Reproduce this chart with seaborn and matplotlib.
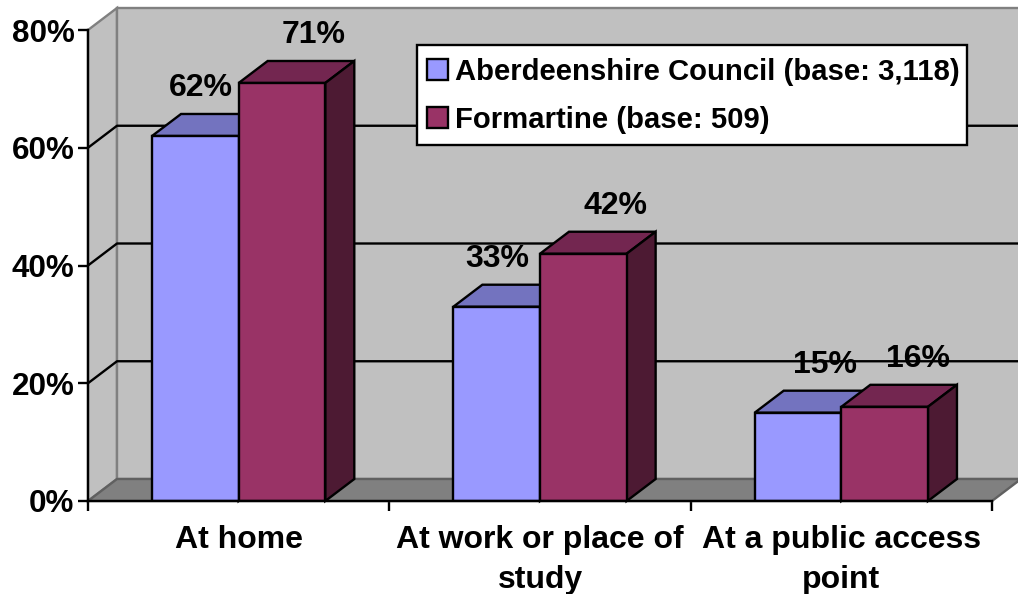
#####----- Where people access the internet, drawn as a fake 3D clustered bar chart

#####----- IMPORTS
import pandas as pd
import matplotlib
matplotlib.use('Agg')
import matplotlib.pyplot as plt
from matplotlib.patches import Polygon, Rectangle
import seaborn as sns

#####----- DATA
categories = ['At home', 'At work or place of\nstudy', 'At a public access\npoint']
series_names = ['Aberdeenshire Council (base: 3,118)', 'Formartine (base: 509)']
council_values = [62, 33, 15]
formartine_values = [71, 42, 16]
y_ticks = [0, 20, 40, 60, 80]

#####----- STYLE
W, H = 1018, 594
left_px, right_px, top_px, bottom_px = 88, 992, 30, 501
depth_x_px, depth_y_px = 29, 22
front_colors = ['#9999FF', '#993366']
top_colors = ['#7373BF', '#732650']
side_colors = ['#4D4D80', '#4D1A33']
fs = 23
fs_tick = 22.6
fs_legend = 21.1
lw = 1.7
font = ['Liberation Sans', 'DejaVu Sans']
# manual label shift from the bar centre (some labels were dragged in the original)
label_shift_px = [[6, 1, 27], [32, 32, 33]]
label_rise_px = 33

sns.set_style("white")
plt.rcParams['font.family'] = font
plt.rcParams['font.weight'] = 'bold'
plt.rcParams['text.color'] = 'black'
plt.rcParams['xtick.color'] = 'black'
plt.rcParams['ytick.color'] = 'black'

df = pd.DataFrame({
    'category': categories * 2,
    'series': [series_names[0]] * 3 + [series_names[1]] * 3,
    'value': council_values + formartine_values,
})

fig = plt.figure(figsize=(W / 100, H / 100), dpi=100)
ax = fig.add_axes([left_px / W, 1 - bottom_px / H, (right_px - left_px) / W, (bottom_px - top_px) / H])
ax.patch.set_visible(False)

sns.barplot(data=df, x='category', y='value', hue='series', order=categories, hue_order=series_names,
            palette=front_colors, width=0.575, gap=0, saturation=1, edgecolor='black', linewidth=lw,
            errorbar=None, ax=ax)
ax.set_xlim(-0.5, 2.5)
ax.set_ylim(0, 80)

dx = depth_x_px * 3 / (right_px - left_px)
dy = depth_y_px * 80 / (bottom_px - top_px)


def add_poly(points, face, edge, z):
    ax.add_patch(Polygon(points, closed=True, facecolor=face, edgecolor=edge, linewidth=lw, zorder=z, clip_on=False))


#### Walls and floor
x0, x1 = -0.5, 2.5
x_far = x1 + dx
add_poly([(x0, 0), (x0 + dx, dy), (x0 + dx, 80 + dy), (x0, 80)], '#C0C0C0', '#808080', 0.5)
add_poly([(x0 + dx, dy), (x_far, dy), (x_far, 80 + dy), (x0 + dx, 80 + dy)], '#C0C0C0', '#808080', 0.6)
add_poly([(x0, 0), (x1, 0), (x_far, dy), (x0 + dx, dy)], '#808080', '#606060', 0.7)

for v in y_ticks[1:-1]:
    ax.plot([x0, x0 + dx, x_far], [v, v + dy, v + dy], color='black', lw=lw, zorder=1, clip_on=False)

#### 3D faces and labels
for i, container in enumerate(ax.containers):
    z = 3 + 2 * i
    for j, bar in enumerate(container):
        bar.set_zorder(z)
        a, b = bar.get_x(), bar.get_x() + bar.get_width()
        h = bar.get_height()
        add_poly([(a, h), (b, h), (b + dx, h + dy), (a + dx, h + dy)], top_colors[i], 'black', z - 0.5)
        add_poly([(b, 0), (b + dx, dy), (b + dx, h + dy), (b, h)], side_colors[i], 'black', z - 0.5)
        ax.annotate(f'{h:.0f}%', xy=((a + b) / 2, h), xytext=(label_shift_px[i][j], label_rise_px),
                    textcoords='offset pixels', ha='center', va='bottom', fontsize=fs, fontweight='bold',
                    color='black', zorder=10, annotation_clip=False)

#### Axes
sns.despine(ax=ax, top=True, right=True)
for side in ['left', 'bottom']:
    ax.spines[side].set_linewidth(lw)
    ax.spines[side].set_color('black')
    ax.spines[side].set_zorder(8)

ax.set_xlabel('')
ax.set_ylabel('')
ax.set_yticks(y_ticks)
ax.set_yticklabels([f'{v}%' for v in y_ticks], fontsize=fs_tick, fontweight='bold', color='black')
ax.tick_params(axis='y', left=True, length=7.2, width=lw, color='black', pad=2.5)
ax.set_xticks([-0.5, 0.5, 1.5, 2.5], minor=True)
ax.set_xticks([0, 1, 2])
ax.set_xticklabels(categories, fontsize=fs, fontweight='bold', color='black', linespacing=1.45)
ax.tick_params(axis='x', which='major', bottom=False, length=0, pad=17)
ax.tick_params(axis='x', which='minor', bottom=True, length=7.2, width=lw, color='black')

#### Legend, with the box drawn separately since its padding is uneven
fig.add_artist(Rectangle((417 / W, 1 - 145 / H), 550 / W, 100 / H, transform=fig.transFigure, facecolor='white',
                         edgecolor='black', linewidth=lw, zorder=11))
handles, labels = ax.get_legend_handles_labels()
ax.get_legend().remove()
leg = fig.legend(handles, labels, loc='upper left', bbox_to_anchor=(427 / W, 1 - 58 / H),
                 fontsize=fs_legend, frameon=False, borderaxespad=0, borderpad=0, handlelength=0.72,
                 handleheight=0.72, handletextpad=0.24, labelspacing=0.67)
leg.set_zorder(12)
for t in leg.get_texts():
    t.set_fontweight('bold')
    t.set_color('black')

fig.savefig('out.png', dpi=100, facecolor='white')
